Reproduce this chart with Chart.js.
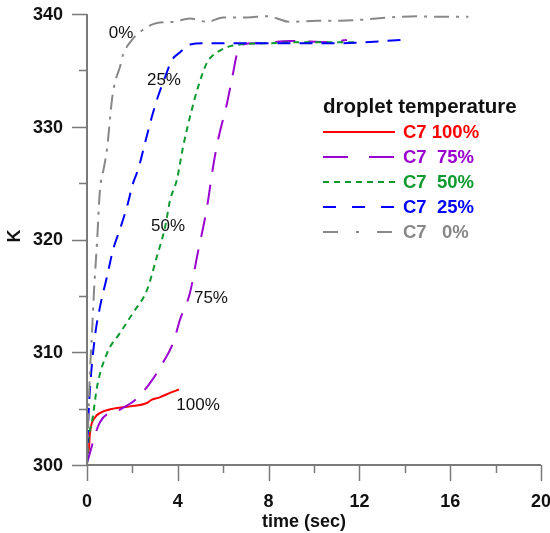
<!DOCTYPE html>
<html>
<head>
<meta charset="utf-8">
<title>droplet temperature</title>
<script src="https://cdn.jsdelivr.net/npm/chart.js@4.4.1/dist/chart.umd.min.js"></script>
<style>
  html, body { margin: 0; padding: 0; background: #fff; }
  #wrap { width: 550px; height: 533px; }
</style>
</head>
<body>
<div id="wrap"><canvas id="c" width="550" height="533"></canvas></div>
<script>
// ---- data (time in sec, temperature in K) ----
const t100 = [0.05, 0.09, 0.13, 0.35, 0.57, 1.15, 1.9, 2.64, 2.86, 3.2, 3.66, 4.05];
const k100 = [301.0, 301.6, 302.8, 304.2, 304.6, 305.0, 305.2, 305.5, 305.8, 306.0, 306.4, 306.7];

const t75 = [0, 0.57, 1.45, 2.25, 2.86, 3.35, 3.79, 4.10, 4.54, 4.85, 5.29, 5.55, 5.77, 6.17, 6.39, 6.65, 6.87, 7.49, 8.94, 10.7, 11.45];
const k75 = [300.2, 303.8, 304.9, 306.0, 307.5, 309.1, 310.8, 312.9, 315.3, 318.5, 322.9, 326.4, 328.8, 332.1, 334.3, 336.8, 337.3, 337.4, 337.6, 337.5, 337.7];

const t50 = [0, 0.04, 0.26, 0.44, 0.88, 1.45, 2.03, 2.64, 3.08, 3.44, 3.66, 3.96, 4.23, 4.54, 4.89, 5.29, 5.73, 6.43, 7.93, 9.38, 11.28, 11.89];
const k50 = [300.0, 301.6, 304.3, 306.9, 309.9, 311.7, 313.5, 315.5, 318.5, 321.1, 323.5, 325.3, 328.2, 330.9, 333.5, 335.7, 336.6, 337.2, 337.4, 337.5, 337.5, 337.5];

const t25 = [0, 0.04, 0.13, 0.35, 0.57, 0.88, 1.15, 1.45, 1.76, 2.03, 2.25, 2.56, 2.86, 3.13, 3.44, 3.74, 4.10, 4.54, 5.29, 8.0, 11.0, 13.85];
const k25 = [300.0, 303.1, 306.7, 311.4, 314.0, 316.7, 319.1, 320.9, 322.9, 325.0, 326.2, 328.6, 330.9, 332.7, 334.4, 335.9, 336.6, 337.3, 337.4, 337.4, 337.4, 337.7];

const t0 = [0, 0.04, 0.13, 0.22, 0.31, 0.44, 0.57, 0.70, 0.88, 1.10, 1.23, 1.45, 1.59, 1.98, 2.33, 3.08, 3.79, 4.54, 5.29, 6.0, 7.05, 7.93, 8.37, 8.94, 10.13, 11.15, 12.16, 13.35, 14.54, 15.42, 16.8];
const k0 = [300.4, 303.1, 308.2, 311.7, 315.5, 319.7, 324.4, 325.9, 328.0, 332.4, 333.9, 335.3, 336.4, 337.7, 338.4, 339.2, 339.3, 339.6, 339.3, 339.7, 339.7, 339.8, 339.6, 339.3, 339.4, 339.4, 339.5, 339.7, 339.8, 339.75, 339.75];

const seriesNames = ['C7 100%', 'C7  75%', 'C7  50%', 'C7  25%', 'C7   0%'];
const curveLabels = ['100%', '75%', '50%', '25%', '0%'];
const labelAtT = [4.89, 5.46, 3.57, 3.39, 1.50];
const labelAtK = [305.3, 314.8, 321.2, 334.1, 338.3];

const xTicks = [0, 4, 8, 12, 16, 20];
const yTicks = [300, 310, 320, 330, 340];

// ---- styles ----
const FONT = '"Liberation Sans", Arial, Helvetica, sans-serif';
const styles = [
  { color: '#ff0000', dash: [] },
  { color: '#9b00d0', dash: [20, 13] },
  { color: '#0f9a30', dash: [6, 5] },
  { color: '#0000ff', dash: [13, 9] },
  { color: '#888888', dash: [15, 7, 3, 7] }
];
const AXIS = '#7a7a7a';

const zip = (xs, ys) => xs.map((x, i) => ({ x, y: ys[i] }));
const allData = [zip(t100, k100), zip(t75, k75), zip(t50, k50), zip(t25, k25), zip(t0, k0)];

// draw order: gray, blue, green, purple, red on top
const order = [4, 3, 2, 1, 0];
const datasets = order.map(i => ({
  label: seriesNames[i],
  data: allData[i],
  borderColor: styles[i].color,
  borderDash: styles[i].dash,
  borderWidth: 2,
  pointRadius: 0,
  fill: false,
  cubicInterpolationMode: 'monotone'
}));

// ---- plugin: axes, tick labels, titles, legend, curve labels ----
const decor = {
  id: 'decor',
  afterDraw(chart) {
    const ctx = chart.ctx;
    const xs = chart.scales.x, ys = chart.scales.y;
    const x0 = xs.getPixelForValue(0), y0 = ys.getPixelForValue(300);
    ctx.save();

    // tick marks (major + minor)
    ctx.strokeStyle = AXIS;
    ctx.lineWidth = 1.5;
    ctx.beginPath();
    for (let v = 0; v <= 20; v += 2) {
      const px = Math.round(xs.getPixelForValue(v)) + 0.5;
      const len = (v % 4 === 0) ? 16 : 8;
      ctx.moveTo(px, y0); ctx.lineTo(px, y0 + len);
    }
    for (let v = 300; v <= 340; v += 5) {
      const py = Math.round(ys.getPixelForValue(v)) + 0.5;
      const len = (v % 10 === 0) ? 15 : 8;
      ctx.moveTo(x0, py); ctx.lineTo(x0 - len, py);
    }
    ctx.stroke();

    // axis lines
    ctx.lineWidth = 2;
    ctx.beginPath();
    ctx.moveTo(x0, ys.getPixelForValue(340)); ctx.lineTo(x0, y0);
    ctx.lineTo(xs.getPixelForValue(20), y0);
    ctx.stroke();

    // tick labels
    ctx.fillStyle = '#111';
    ctx.font = 'bold 18px ' + FONT;
    ctx.textBaseline = 'middle';
    ctx.textAlign = 'center';
    xTicks.forEach(v => ctx.fillText(String(v), xs.getPixelForValue(v), y0 + 37));
    ctx.textAlign = 'right';
    yTicks.forEach(v => ctx.fillText(String(v), x0 - 24, ys.getPixelForValue(v) + 1));

    // axis titles
    ctx.textAlign = 'center';
    ctx.fillText('time (sec)', 304, 522);
    ctx.save();
    ctx.translate(15, 236);
    ctx.rotate(-Math.PI / 2);
    ctx.fillText('K', 0, 0);
    ctx.restore();

    // curve labels
    ctx.font = '17px ' + FONT;
    curveLabels.forEach((s, i) => {
      ctx.fillText(s, xs.getPixelForValue(labelAtT[i]), ys.getPixelForValue(labelAtK[i]));
    });

    // legend
    ctx.textAlign = 'left';
    ctx.font = 'bold 20.5px ' + FONT;
    ctx.fillText('droplet temperature', 323, 107);
    ctx.font = 'bold 18.5px ' + FONT;
    seriesNames.forEach((s, i) => {
      const y = 132 + i * 25;
      ctx.strokeStyle = styles[i].color;
      ctx.lineWidth = 2;
      ctx.setLineDash(i === 1 ? [25, 21] : i === 3 ? [13, 16] : i === 4 ? [15, 18, 3, 18] : styles[i].dash);
      ctx.beginPath(); ctx.moveTo(323, y); ctx.lineTo(395, y); ctx.stroke();
      ctx.setLineDash([]);
      ctx.fillStyle = styles[i].color;
      ctx.fillText(s, 403, y + 1);
    });
    ctx.restore();
  }
};

new Chart(document.getElementById('c'), {
  type: 'line',
  data: { datasets },
  options: {
    responsive: false,
    animation: false,
    devicePixelRatio: 1,
    layout: { padding: { top: 14, right: 9, left: 0, bottom: 0 } },
    plugins: { legend: { display: false }, tooltip: { enabled: false } },
    scales: {
      x: {
        type: 'linear', min: 0, max: 20,
        afterFit: (s) => { s.height = 68; },
        grid: { display: false, drawTicks: false },
        border: { display: false },
        ticks: { display: false }
      },
      y: {
        type: 'linear', min: 300, max: 340,
        afterFit: (s) => { s.width = 87; },
        grid: { display: false, drawTicks: false },
        border: { display: false },
        ticks: { display: false }
      }
    }
  },
  plugins: [decor]
});
</script>
</body>
</html>
